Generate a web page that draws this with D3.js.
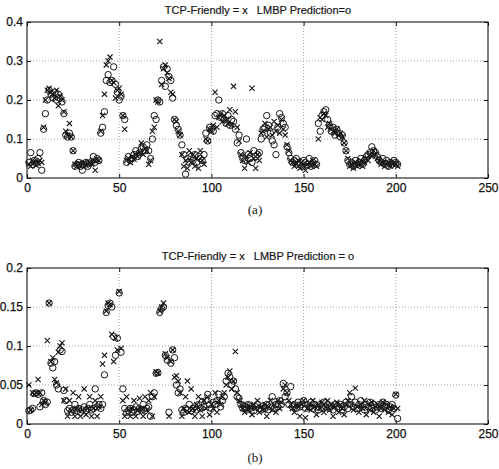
<!DOCTYPE html>
<html>
<head>
<meta charset="utf-8">
<script src="https://cdn.jsdelivr.net/npm/d3@7"></script>
<style>
  body { margin: 0; background: #fff; }
  svg { display: block; }
  .tick text { font-family: "Liberation Sans", Arial, sans-serif; font-size: 12px; fill: #111; stroke: #111; stroke-width: 0.25px; }
</style>
</head>
<body>
<div id="chart"></div>
<script>
// tick values
const xTicks = [0, 50, 100, 150, 200, 250];
const yTicksA = [0, 0.1, 0.2, 0.3, 0.4];
const yTicksB = [0, 0.05, 0.1, 0.15, 0.2];

// panel (a): sample index = position + 1
const tcpA = [
  0.035, 0.030, 0.045, 0.040, 0.032, 0.038, 0.045, 0.040, 0.130, 0.200,
  0.225, 0.230, 0.220, 0.215, 0.205, 0.225, 0.185, 0.210, 0.200, 0.170,
  0.120, 0.110, 0.140, 0.105, 0.070, 0.035, 0.030, 0.038, 0.030, 0.035,
  0.040, 0.032, 0.036, 0.040, 0.035, 0.045, 0.020, 0.048, 0.045, 0.120,
  0.160, 0.215, 0.290, 0.300, 0.310, 0.250, 0.245, 0.205, 0.225, 0.230,
  0.215, 0.160, 0.125, 0.045, 0.050, 0.040, 0.055, 0.048, 0.060, 0.055,
  0.065, 0.090, 0.060, 0.075, 0.070, 0.035, 0.045, 0.120, 0.130, 0.200,
  0.195, 0.350, 0.240, 0.280, 0.290, 0.270, 0.255, 0.220, 0.215, 0.150,
  0.145, 0.120, 0.110, 0.060, 0.030, 0.045, 0.025, 0.070, 0.040, 0.060,
  0.030, 0.050, 0.025, 0.070, 0.045, 0.035, 0.100, 0.095, 0.125, 0.120,
  0.135, 0.220, 0.130, 0.155, 0.165, 0.145, 0.160, 0.150, 0.140, 0.175,
  0.135, 0.235, 0.170, 0.130, 0.095, 0.060, 0.045, 0.025, 0.055, 0.040,
  0.065, 0.230, 0.050, 0.025, 0.060, 0.045, 0.115, 0.120, 0.140, 0.105,
  0.125, 0.130, 0.110, 0.145, 0.120, 0.135, 0.115, 0.150, 0.125, 0.110,
  0.085, 0.070, 0.045, 0.040, 0.030, 0.035, 0.045, 0.025, 0.040, 0.030,
  0.020, 0.035, 0.040, 0.030, 0.045, 0.035, 0.030, 0.100, 0.155, 0.150,
  0.165, 0.160, 0.130, 0.140, 0.125, 0.120, 0.115, 0.125, 0.110, 0.115,
  0.105, 0.090, 0.070, 0.050, 0.030, 0.035, 0.025, 0.040, 0.030, 0.035,
  0.045, 0.030, 0.040, 0.050, 0.045, 0.060, 0.055, 0.070, 0.060, 0.050,
  0.045, 0.035, 0.040, 0.030, 0.035, 0.040, 0.030, 0.035, 0.040, 0.035,
  0.030
];
const lmbpA = [
  0.040, 0.065, 0.035, 0.045, 0.038, 0.050, 0.065, 0.020, 0.125, 0.165,
  0.200, 0.225, 0.215, 0.205, 0.220, 0.200, 0.215, 0.205, 0.195, 0.165,
  0.110, 0.105, 0.115, 0.105, 0.070, 0.030, 0.035, 0.040, 0.030, 0.020,
  0.035, 0.040, 0.030, 0.038, 0.042, 0.055, 0.040, 0.050, 0.045, 0.115,
  0.130, 0.170, 0.250, 0.265, 0.245, 0.250, 0.285, 0.240, 0.220, 0.200,
  0.210, 0.160, 0.150, 0.040, 0.055, 0.045, 0.050, 0.060, 0.070, 0.055,
  0.065, 0.075, 0.080, 0.070, 0.085, 0.070, 0.050, 0.100, 0.160, 0.150,
  0.200, 0.195, 0.250, 0.285, 0.235, 0.280, 0.260, 0.250, 0.205, 0.150,
  0.135, 0.125, 0.110, 0.085, 0.060, 0.010, 0.050, 0.040, 0.055, 0.045,
  0.060, 0.040, 0.055, 0.050, 0.045, 0.060, 0.115, 0.095, 0.130, 0.125,
  0.120, 0.160, 0.165, 0.200, 0.155, 0.165, 0.150, 0.140, 0.160, 0.135,
  0.150, 0.145, 0.125, 0.090, 0.110, 0.065, 0.050, 0.045, 0.100, 0.060,
  0.050, 0.040, 0.070, 0.055, 0.060, 0.065, 0.100, 0.125, 0.130, 0.160,
  0.135, 0.115, 0.095, 0.085, 0.060, 0.130, 0.165, 0.155, 0.140, 0.130,
  0.080, 0.065, 0.050, 0.040, 0.045, 0.050, 0.035, 0.040, 0.030, 0.045,
  0.040, 0.035, 0.050, 0.030, 0.040, 0.045, 0.035, 0.140, 0.120, 0.160,
  0.170, 0.175, 0.150, 0.135, 0.120, 0.130, 0.110, 0.125, 0.115, 0.105,
  0.110, 0.090, 0.070, 0.045, 0.035, 0.040, 0.030, 0.045, 0.035, 0.040,
  0.050, 0.035, 0.045, 0.055, 0.060, 0.065, 0.080, 0.070, 0.065, 0.055,
  0.045, 0.040, 0.050, 0.035, 0.045, 0.030, 0.040, 0.035, 0.045, 0.040,
  0.035
];

// panel (b)
const tcpB = [
  0.050, 0.018, 0.040, 0.038, 0.040, 0.057, 0.040, 0.025, 0.030, 0.028,
  0.107, 0.155, 0.080, 0.085, 0.057, 0.053, 0.092, 0.100, 0.104, 0.030,
  0.045, 0.010, 0.030, 0.017, 0.040, 0.010, 0.020, 0.035, 0.010, 0.018,
  0.045, 0.012, 0.020, 0.035, 0.010, 0.020, 0.030, 0.010, 0.022, 0.035,
  0.077, 0.088, 0.145, 0.155, 0.153, 0.115, 0.080, 0.110, 0.095, 0.170,
  0.097, 0.030, 0.010, 0.035, 0.018, 0.010, 0.020, 0.030, 0.010, 0.017,
  0.033, 0.020, 0.010, 0.035, 0.018, 0.030, 0.040, 0.010, 0.035, 0.067,
  0.065, 0.145, 0.150, 0.155, 0.090, 0.085, 0.010, 0.080, 0.095, 0.060,
  0.062, 0.055, 0.040, 0.010, 0.020, 0.035, 0.055, 0.015, 0.045, 0.020,
  0.010, 0.025, 0.035, 0.018, 0.010, 0.030, 0.020, 0.035, 0.012, 0.025,
  0.020, 0.040, 0.015, 0.030, 0.025, 0.035, 0.040, 0.050, 0.060, 0.068,
  0.045, 0.055, 0.093, 0.040, 0.030, 0.025, 0.020, 0.015, 0.025, 0.018,
  0.022, 0.012, 0.025, 0.020, 0.030, 0.015, 0.022, 0.018, 0.025, 0.010,
  0.022, 0.030, 0.018, 0.025, 0.015, 0.030, 0.020, 0.028, 0.045, 0.050,
  0.040, 0.030, 0.025, 0.020, 0.015, 0.025, 0.022, 0.010, 0.025, 0.030,
  0.008, 0.020, 0.025, 0.018, 0.030, 0.022, 0.012, 0.025, 0.020, 0.028,
  0.015, 0.022, 0.030, 0.018, 0.025, 0.010, 0.022, 0.028, 0.015, 0.025,
  0.020, 0.012, 0.025, 0.030, 0.040, 0.025, 0.018, 0.046, 0.022, 0.015,
  0.025, 0.020, 0.030, 0.012, 0.025, 0.018, 0.028, 0.015, 0.022, 0.025,
  0.010, 0.020, 0.028, 0.018, 0.025, 0.015, 0.022, 0.012, 0.020, 0.038,
  0.020
];
const lmbpB = [
  0.017, 0.018, 0.020, 0.039, 0.040, 0.038, 0.022, 0.040, 0.030, 0.025,
  0.028, 0.155, 0.078, 0.072, 0.080, 0.050, 0.045, 0.095, 0.093, 0.043,
  0.030, 0.017, 0.020, 0.015, 0.018, 0.025, 0.017, 0.020, 0.015, 0.018,
  0.022, 0.017, 0.020, 0.025, 0.018, 0.020, 0.045, 0.022, 0.025, 0.020,
  0.025, 0.063, 0.143, 0.152, 0.155, 0.150, 0.112, 0.088, 0.110, 0.168,
  0.092, 0.045, 0.020, 0.015, 0.017, 0.020, 0.015, 0.018, 0.022, 0.016,
  0.020, 0.018, 0.025, 0.017, 0.020, 0.022, 0.010, 0.035, 0.040, 0.065,
  0.066, 0.143, 0.148, 0.150, 0.088, 0.082, 0.015, 0.078, 0.095, 0.085,
  0.050, 0.040, 0.045, 0.018, 0.015, 0.020, 0.018, 0.025, 0.017, 0.020,
  0.022, 0.018, 0.025, 0.020, 0.028, 0.022, 0.030, 0.038, 0.025, 0.020,
  0.028, 0.025, 0.030, 0.038, 0.022, 0.030, 0.035, 0.055, 0.065, 0.060,
  0.050, 0.055, 0.045, 0.035, 0.033, 0.025, 0.020, 0.022, 0.018, 0.025,
  0.020, 0.023, 0.017, 0.022, 0.025, 0.020, 0.018, 0.023, 0.020, 0.025,
  0.018, 0.022, 0.035, 0.020, 0.025, 0.022, 0.030, 0.025, 0.052, 0.035,
  0.040, 0.025, 0.048, 0.022, 0.025, 0.020, 0.028, 0.022, 0.025, 0.030,
  0.020, 0.025, 0.022, 0.028, 0.020, 0.025, 0.022, 0.018, 0.025, 0.020,
  0.028, 0.022, 0.025, 0.020, 0.023, 0.018, 0.025, 0.022, 0.020, 0.025,
  0.018, 0.022, 0.028, 0.020, 0.025, 0.035, 0.022, 0.028, 0.020, 0.025,
  0.030, 0.022, 0.018, 0.025, 0.022, 0.028, 0.020, 0.025, 0.018, 0.022,
  0.025, 0.020, 0.028, 0.022, 0.025, 0.018, 0.022, 0.025, 0.020, 0.037,
  0.007
];

const titleA = "TCP-Friendly = x   LMBP Prediction=o";
const titleB = "TCP-Friendly = x   LMBP Prediction = o";

const width = 499;
const height = 469;
const marginLeft = 27;
const marginRight = 11;
const ink = "#151515";

const svg = d3
  .select("#chart")
  .append("svg")
  .attr("width", width)
  .attr("height", height)
  .attr("viewBox", [0, 0, width, height]);

// one MATLAB-style subplot
function drawPanel(top, bottom, yTicks, tcp, lmbp, title, caption, captionY) {
  const x = d3.scaleLinear().domain([0, 250]).range([marginLeft, width - marginRight]);
  const y = d3.scaleLinear().domain([0, yTicks[yTicks.length - 1]]).range([bottom, top]);

  const g = svg.append("g");

  // dotted grid
  g.append("g")
    .selectAll("line")
    .data(xTicks.slice(1, -1))
    .join("line")
    .attr("x1", (d) => x(d)).attr("x2", (d) => x(d))
    .attr("y1", top).attr("y2", bottom)
    .attr("stroke", "#888").attr("stroke-width", 0.8)
    .attr("stroke-dasharray", "1,2");
  g.append("g")
    .selectAll("line")
    .data(yTicks.slice(1, -1))
    .join("line")
    .attr("x1", x(0)).attr("x2", x(250))
    .attr("y1", (d) => y(d)).attr("y2", (d) => y(d))
    .attr("stroke", "#888").attr("stroke-width", 0.8)
    .attr("stroke-dasharray", "1,2");

  // axes with inward ticks
  g.append("g")
    .attr("transform", `translate(0,${bottom})`)
    .call(d3.axisBottom(x).tickValues(xTicks).tickSizeInner(-4).tickSizeOuter(0).tickPadding(5).tickFormat(d3.format("d")))
    .call((a) => a.select(".domain").remove())
    .call((a) => a.selectAll("line").attr("stroke", ink));
  g.append("g")
    .attr("transform", `translate(0,${top})`)
    .call(d3.axisTop(x).tickValues(xTicks).tickSizeInner(-4).tickSizeOuter(0).tickFormat(""))
    .call((a) => a.select(".domain").remove())
    .call((a) => a.selectAll("line").attr("stroke", ink));
  g.append("g")
    .attr("transform", `translate(${marginLeft},0)`)
    .call(d3.axisLeft(y).tickValues(yTicks).tickSizeInner(-4).tickSizeOuter(0).tickPadding(4).tickFormat((d) => String(d)))
    .call((a) => a.select(".domain").remove())
    .call((a) => a.selectAll("line").attr("stroke", ink));
  g.append("g")
    .attr("transform", `translate(${width - marginRight},0)`)
    .call(d3.axisRight(y).tickValues(yTicks).tickSizeInner(-4).tickSizeOuter(0).tickFormat(""))
    .call((a) => a.select(".domain").remove())
    .call((a) => a.selectAll("line").attr("stroke", ink));

  // box
  g.append("rect")
    .attr("x", x(0)).attr("y", top)
    .attr("width", x(250) - x(0)).attr("height", bottom - top)
    .attr("fill", "none").attr("stroke", ink).attr("stroke-width", 1.1);

  // LMBP prediction = o
  g.append("g")
    .selectAll("circle")
    .data(lmbp)
    .join("circle")
    .attr("cx", (d, i) => x(i + 1))
    .attr("cy", (d) => y(d))
    .attr("r", 3.2)
    .attr("fill", "none")
    .attr("stroke", ink)
    .attr("stroke-width", 1);

  // TCP-friendly = x
  const s = 2.6;
  g.append("g")
    .selectAll("path")
    .data(tcp)
    .join("path")
    .attr("d", (d, i) => {
      const cx = x(i + 1), cy = y(d);
      return `M${cx - s},${cy - s}L${cx + s},${cy + s}M${cx - s},${cy + s}L${cx + s},${cy - s}`;
    })
    .attr("stroke", ink)
    .attr("stroke-width", 1.1);

  // title
  svg.append("text")
    .attr("x", 258)
    .attr("y", top - 8)
    .attr("text-anchor", "middle")
    .attr("font-family", "Liberation Sans, Arial, sans-serif")
    .attr("font-size", 11)
    .attr("fill", ink)
    .attr("stroke", ink)
    .attr("stroke-width", 0.2)
    .style("white-space", "pre")
    .text(title);

  // caption
  svg.append("text")
    .attr("x", 255)
    .attr("y", captionY)
    .attr("text-anchor", "middle")
    .attr("font-family", "Liberation Serif, Times New Roman, serif")
    .attr("font-size", 13)
    .attr("fill", ink)
    .text(caption);
}

drawPanel(22, 178, yTicksA, tcpA, lmbpA, titleA, "(a)", 214);
drawPanel(268, 424, yTicksB, tcpB, lmbpB, titleB, "(b)", 462);
</script>
</body>
</html>
